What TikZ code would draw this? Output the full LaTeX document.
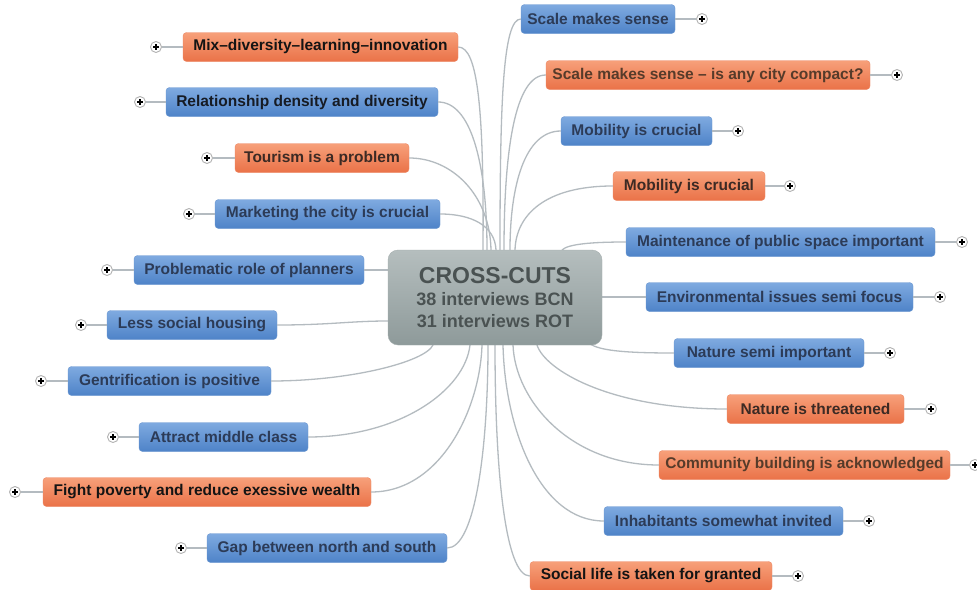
\documentclass[tikz,border=0pt]{standalone}
\usepackage{fontspec}
\setmainfont{Liberation Sans}
\definecolor{bluetop}{HTML}{7FAAE0}
\definecolor{bluebot}{HTML}{4E83C8}
\definecolor{orgtop}{HTML}{F7A07A}
\definecolor{orgbot}{HTML}{EA7248}
\definecolor{conncol}{HTML}{B4BBC0}
\definecolor{bluetxt}{HTML}{1C2C48}
\definecolor{bluetxtR}{HTML}{2C3B57}
\definecolor{orgtxt}{HTML}{3C2A24}
\definecolor{darktxt}{HTML}{141414}
\definecolor{ctrtop}{HTML}{B5BEBE}
\definecolor{ctrbot}{HTML}{8E9A9A}
\definecolor{ctrtxt}{HTML}{4A5252}
\tikzset{
  mbox/.style={rounded corners=3.5pt, minimum height=29pt, inner sep=0pt,
    font=\fontsize{15.5}{18}\selectfont\bfseries},
  bluebox/.style={mbox, top color=bluetop, bottom color=bluebot, draw=bluebot!85!white, text=bluetxt},
  blueboxR/.style={bluebox, text=bluetxtR},
  orgbox/.style={mbox, top color=orgtop, bottom color=orgbot, draw=orgbot!85!white, text=orgtxt},
  conn/.style={draw=conncol, line width=1.3pt},
  plusnode/.style={circle, minimum size=11pt, inner sep=0pt, draw=gray!60, line width=0.9pt, fill=white,
    path picture={\draw[line width=1.3pt, black] ([xshift=-2.6pt]path picture bounding box.center) -- ([xshift=2.6pt]path picture bounding box.center);
                  \draw[line width=1.3pt, black] ([yshift=-2.6pt]path picture bounding box.center) -- ([yshift=2.6pt]path picture bounding box.center);}},
}
\begin{document}
\begin{tikzpicture}[x=1pt,y=-1pt]
\useasboundingbox (0,0) rectangle (977,589);
\fill[white] (0,0) rectangle (977,589);

% attach points on the centre node
\coordinate (t1) at (483,250);
\coordinate (t2) at (487,250);
\coordinate (t3) at (491,250);
\coordinate (t4) at (496,250);
\coordinate (t5) at (500,250);
\coordinate (t6) at (504,250);
\coordinate (t7) at (510,250);
\coordinate (t8) at (515,250);
\coordinate (t9) at (562,250);
\coordinate (s5) at (388,270);
\coordinate (s6) at (388,321);
\coordinate (s7) at (602,297);
\coordinate (b1) at (433,345);
\coordinate (b2) at (470,345);
\coordinate (b3) at (482,345);
\coordinate (b4) at (488,345);
\coordinate (b5) at (495,345);
\coordinate (b6) at (503,345);
\coordinate (b7) at (513,345);
\coordinate (b8) at (537,345);
\coordinate (b9) at (590,344);

% left nodes
\node[orgbox, minimum width=275pt, text=darktxt] (l1) at (320.5,47) {Mix--diversity--learning--innovation};
\node[bluebox, minimum width=272pt, text=darktxt!70!bluetxt] (l2) at (302,102) {Relationship density and diversity};
\node[orgbox, minimum width=174pt] (l3) at (322,158) {Tourism is a problem};
\node[bluebox, minimum width=225pt, text=bluetxtR] (l4) at (327.5,214) {Marketing the city is crucial};
\node[bluebox, minimum width=230pt, text=bluetxtR] (l5) at (249,270) {Problematic role of planners};
\node[bluebox, minimum width=170pt, text=bluetxtR] (l6) at (192,325) {Less social housing};
\node[bluebox, minimum width=203pt, text=bluetxtR] (l7) at (169.5,381) {Gentrification is positive};
\node[bluebox, minimum width=169pt, text=bluetxtR] (l8) at (223.5,437) {Attract middle class};
\node[orgbox, minimum width=328pt, text=darktxt] (l9) at (207,492) {Fight poverty and reduce exessive wealth};
\node[bluebox, minimum width=240pt, text=bluetxtR] (l10) at (327,548) {Gap between north and south};

% right nodes
\node[blueboxR, minimum width=154pt] (r1) at (598,19) {Scale makes sense};
\node[orgbox, minimum width=324pt, text=orgtxt!80!brown] (r2) at (708,75) {Scale makes sense -- is any city compact?};
\node[blueboxR, minimum width=151pt] (r3) at (636.5,131) {Mobility is crucial};
\node[orgbox, minimum width=152pt] (r4) at (689,186) {Mobility is crucial};
\node[blueboxR, minimum width=309pt] (r5) at (780.5,242) {Maintenance of public space important};
\node[blueboxR, minimum width=267pt] (r6) at (779.5,297) {Environmental issues semi focus};
\node[blueboxR, minimum width=190pt] (r7) at (769,353) {Nature semi important};
\node[orgbox, minimum width=177pt] (r8) at (815.5,409) {Nature is threatened};
\node[orgbox, minimum width=291pt, text=orgtxt!80!brown] (r9) at (804.5,465) {Community building is acknowledged};
\node[blueboxR, minimum width=239pt] (r10) at (723.5,521) {Inhabitants somewhat invited};
\node[orgbox, minimum width=242pt, text=darktxt] (r11) at (651,576) {Social life is taken for granted};

% plus icons
\node[plusnode] (pl1) at (156,47) {};
\node[plusnode] (pl2) at (140,102) {};
\node[plusnode] (pl3) at (207,158) {};
\node[plusnode] (pl4) at (189,214) {};
\node[plusnode] (pl5) at (107,270) {};
\node[plusnode] (pl6) at (81,325) {};
\node[plusnode] (pl7) at (41,381) {};
\node[plusnode] (pl8) at (113,437) {};
\node[plusnode] (pl9) at (15,492) {};
\node[plusnode] (pl10) at (181,548) {};
\node[plusnode] (pr1) at (702,19) {};
\node[plusnode] (pr2) at (897,75) {};
\node[plusnode] (pr3) at (738,131) {};
\node[plusnode] (pr4) at (790,186) {};
\node[plusnode] (pr5) at (962,242) {};
\node[plusnode] (pr6) at (940,297) {};
\node[plusnode] (pr7) at (890,353) {};
\node[plusnode] (pr8) at (931,409) {};
\node[plusnode] (pr9) at (975,465) {};
\node[plusnode] (pr10) at (869,521) {};
\node[plusnode] (pr11) at (798,576) {};

\foreach \i in {1,...,10} { \draw[conn] (pl\i) -- (l\i); }
\foreach \i in {1,...,11} { \draw[conn] (r\i) -- (pr\i); }

% connectors to the centre
\draw[conn] (l1.east) .. controls (478,47) and (484,110) .. (t1);
\draw[conn] (l2.east) .. controls (470,102) and (487,160) .. (t2);
\draw[conn] (l3.east) .. controls (452,158) and (490,195) .. (t3);
\draw[conn] (l4.east) .. controls (472,214) and (495,226) .. (t4);
\draw[conn] (r1.west) .. controls (503,19) and (500,100) .. (t5);
\draw[conn] (r2.west) .. controls (515,75) and (504,150) .. (t6);
\draw[conn] (r3.west) .. controls (525,131) and (510,185) .. (t7);
\draw[conn] (r4.west) .. controls (545,186) and (516,215) .. (t8);
\draw[conn] (r5.west) .. controls (592,242) and (568,244) .. (t9);
\draw[conn] (l5.east) -- (s5);
\draw[conn] (l6.east) .. controls (330,325) and (350,321) .. (s6);
\draw[conn] (r6.west) -- (s7);
\draw[conn] (l7.east) .. controls (350,381) and (425,362) .. (b1);
\draw[conn] (l8.east) .. controls (400,437) and (465,390) .. (b2);
\draw[conn] (l9.east) .. controls (440,492) and (480,410) .. (b3);
\draw[conn] (l10.east) .. controls (475,548) and (488,450) .. (b4);
\draw[conn] (r11.west) .. controls (505,576) and (495,470) .. (b5);
\draw[conn] (r10.west) .. controls (540,521) and (505,430) .. (b6);
\draw[conn] (r9.west) .. controls (570,465) and (515,400) .. (b7);
\draw[conn] (r8.west) .. controls (610,409) and (545,370) .. (b8);
\draw[conn] (r7.west) .. controls (620,353) and (600,350) .. (b9);

% centre node
\node[rounded corners=10pt, minimum width=214pt, minimum height=95pt, inner sep=0pt,
      top color=ctrtop, bottom color=ctrbot, draw=ctrbot!80!white, text=ctrtxt,
      align=center, font=\bfseries\fontsize{18}{21.5}\selectfont] (c) at (495,297.5)
  {{\fontsize{23}{26}\selectfont CROSS-CUTS}\\[1pt]
   38 interviews BCN\\
   31 interviews ROT};
\end{tikzpicture}
\end{document}
